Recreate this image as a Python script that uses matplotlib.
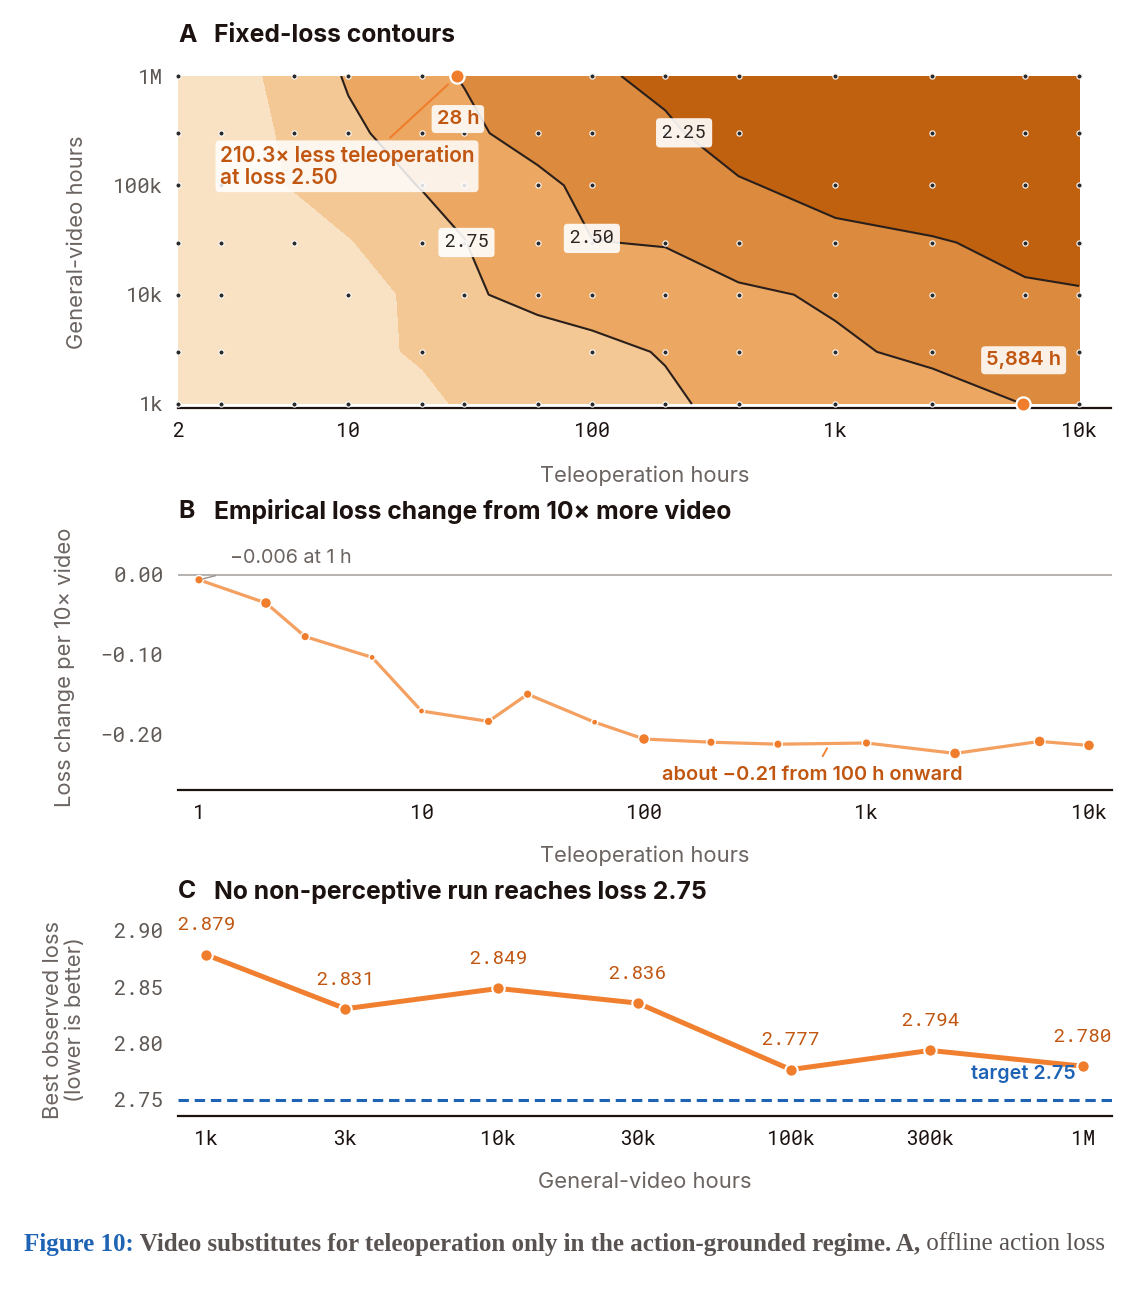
import numpy as np
import matplotlib
matplotlib.use("Agg")
import matplotlib.pyplot as plt

W, H, DPI = 1136, 1291, 100

# ---------------- data ----------------
# Panel A: fixed-loss surface over (teleoperation hours, general-video hours)
tele_grid = [2, 3, 6, 10, 20, 30, 60, 100, 200, 400, 1000, 2500, 6000, 10000]
video_grid = [1e3, 3e3, 1e4, 3e4, 1e5, 3e5, 1e6]
loss_v1k = [3.25, 3.20, 3.14, 3.08, 3.04, 2.975, 2.90, 2.84, 2.791, 2.678, 2.62, 2.60, 2.497, 2.45]
loss_v3k = [3.22, 3.18, 3.12, 3.05, 2.978, 2.93, 2.86, 2.81, 2.735, 2.65, 2.535, 2.453, 2.40, 2.36]
loss_v10k = [3.20, 3.16, 3.11, 3.06, 2.967, 2.78, 2.689, 2.65, 2.60, 2.54, 2.47, 2.36, 2.279, 2.268]
loss_v30k = [3.18, 3.13, 3.08, 3.01, 2.8585, 2.755, 2.57, 2.505, 2.49, 2.37, 2.33, 2.27, 2.193, 2.16]
loss_v100k = [3.15, 3.08, 2.987, 2.88, 2.74, 2.68, 2.56, 2.4355, 2.36, 2.28, 2.144, 2.09, 2.06, 2.04]
loss_v300k = [3.20, 3.12, 2.956, 2.80, 2.633, 2.55, 2.404, 2.34, 2.30, 2.109, 2.09, 2.05, 2.02, 2.00]
loss_v1M = [3.18, 3.10, 2.92, 2.724, 2.56, 2.486, 2.40, 2.30, 2.175, 2.12, 2.06, 2.02, 1.99, 1.97]
# observed runs (1 = a run exists at that grid cell)
obs_v1k = [1, 1, 1, 1, 1, 1, 1, 1, 1, 1, 1, 1, 1, 1]
obs_v3k = [1, 1, 0, 0, 1, 0, 0, 1, 1, 1, 1, 1, 1, 1]
obs_v10k = [1, 1, 0, 1, 0, 1, 1, 1, 1, 1, 1, 1, 1, 1]
obs_v30k = [1, 1, 1, 0, 1, 1, 1, 1, 1, 1, 1, 1, 1, 1]
obs_v100k = [1, 1, 0, 0, 1, 1, 1, 1, 0, 0, 1, 1, 1, 1]
obs_v300k = [1, 1, 1, 1, 1, 1, 1, 1, 1, 1, 0, 1, 1, 1]
obs_v1M = [1, 0, 1, 1, 1, 0, 0, 1, 1, 1, 1, 1, 1, 1]
contour_levels = [2.25, 2.50, 2.75]
fill_levels = [1.5, 2.25, 2.50, 2.75, 3.00, 3.6]
match_loss = 2.50
match_tele = [28, 5884]
match_video = [1e6, 1e3]
ratio_text = "210.3\u00d7 less teleoperation\nat loss 2.50"

# Panel B: loss change per 10x more video
b_tele = [1, 2, 3, 6, 10, 20, 30, 60, 100, 200, 400, 1000, 2500, 6000, 10000]
b_delta = [-0.006, -0.035, -0.077, -0.103, -0.170, -0.183, -0.149, -0.184,
           -0.205, -0.209, -0.2115, -0.210, -0.223, -0.208, -0.213]
b_runs = [2, 3, 2, 1, 1, 2, 2, 1, 3, 2, 2, 2, 3, 3, 3]
b_plateau = -0.21

# Panel C: best observed loss per video budget
c_video = [1e3, 3e3, 1e4, 3e4, 1e5, 3e5, 1e6]
c_loss = [2.879, 2.831, 2.849, 2.836, 2.777, 2.794, 2.780]
c_target = 2.75

# ---------------- style ----------------
SANS = ["Inter", "DejaVu Sans"]
MONO = ["Roboto Mono", "DejaVu Sans Mono"]
INK = "#1c1311"
GRAY = "#6b6461"
TICKGRAY = "#5f5955"
ACC = "#c05610"
ORANGE = "#ef7d2c"
LIGHTOR = "#f4a061"
BLUE = "#1f63b5"
fill_colors = ["#c06110", "#dc8a3e", "#eca862", "#f3c894", "#f9e2c4"]
LABEL_FS = 15.8
ANN_FS = 14.4

plt.rcParams["font.family"] = SANS

fig = plt.figure(figsize=(W / DPI, H / DPI), dpi=DPI)
fig.patch.set_facecolor("white")


def px_axes(l, t, r, b):
    return fig.add_axes([l / W, 1 - b / H, (r - l) / W, (b - t) / H])


def style_axis(ax):
    for s in ["top", "right", "left"]:
        ax.spines[s].set_visible(False)
    ax.spines["bottom"].set_color(INK)
    ax.spines["bottom"].set_linewidth(1.6)
    ax.tick_params(axis="both", length=0)
    ax.tick_params(axis="x", pad=10, labelsize=14.5, labelcolor=INK)
    ax.tick_params(axis="y", pad=10.5, labelsize=15, labelcolor=TICKGRAY)
    for lab in ax.get_xticklabels() + ax.get_yticklabels():
        lab.set_family(MONO)
    ax.patch.set_alpha(0)


def panel_title(letter, text, y_px):
    fig.text(178 / W, 1 - y_px / H, letter, fontsize=17.8, fontweight="bold",
             color=INK, va="center", ha="left", family=SANS)
    fig.text(214 / W, 1 - y_px / H, text, fontsize=17.8, fontweight="bold",
             color=INK, va="center", ha="left", family=SANS)


# ---------------- Panel A ----------------
axA = px_axes(178, 76, 1111, 408)
U = np.log10(np.array(tele_grid, dtype=float))
V = np.log10(np.array(video_grid, dtype=float))
Z = np.array([loss_v1k, loss_v3k, loss_v10k, loss_v30k, loss_v100k, loss_v300k, loss_v1M])
OBS = np.array([obs_v1k, obs_v3k, obs_v10k, obs_v30k, obs_v100k, obs_v300k, obs_v1M])
UU, VV = np.meshgrid(U, V)

axA.contourf(UU, VV, Z, levels=fill_levels, colors=fill_colors, zorder=1)
cs = axA.contour(UU, VV, Z, levels=contour_levels, colors="#2a1f1a",
                 linewidths=1.5, zorder=2)
mask = OBS.astype(bool)
axA.scatter(UU[mask], VV[mask], s=14, color="#2b2b2b", edgecolors="white",
            linewidths=0.8, zorder=3, clip_on=False)

lbl_pos = [(2.378, 5.479), (1.988, 4.482), (1.489, 4.482)]
labels = axA.clabel(cs, levels=contour_levels, fmt=lambda v: f"{v:.2f}",
                    manual=lbl_pos, inline=False, fontsize=13.5, colors="#2a2422")
for t in labels:
    t.set_rotation(0)
    t.set_family(MONO)
    t.set_zorder(6)
    t.set_bbox(dict(boxstyle="round,pad=0.3,rounding_size=0.2", fc="white",
                    ec="none", alpha=0.9))

mu = np.log10(np.array(match_tele, dtype=float))
mv = np.log10(np.array(match_video, dtype=float))
axA.scatter(mu, mv, s=105, color=ORANGE, edgecolors="white", linewidths=1.6,
            zorder=7, clip_on=False)
box = dict(boxstyle="round,pad=0.25,rounding_size=0.2", fc="white", ec="none", alpha=0.88)
for uu, vv, tele, dy in zip(mu, mv, match_tele, [-31, 31.5]):
    axA.annotate(f"{tele:,} h", xy=(uu, vv), xytext=(0.5, dy), textcoords="offset points",
                 ha="center", va="center", fontsize=ANN_FS, fontweight="semibold",
                 color=ACC, bbox=box, zorder=8)
axA.annotate(ratio_text, xy=(mu[0], mv[0]), xytext=(-171, -65), textcoords="offset points",
             ha="left", va="center", fontsize=15, fontweight="semibold", color=ACC,
             linespacing=1.15, bbox=dict(boxstyle="round,pad=0.2,rounding_size=0.2",
                                         fc="white", ec="none", alpha=0.85),
             arrowprops=dict(arrowstyle="-", color=ORANGE, lw=1.5, shrinkA=3,
                             shrinkB=9, relpos=(0.64, 1.0)), zorder=8)

axA.set_xlim(np.log10(2), np.log10(2) + (1111 - 178) / 243.6)
axA.set_ylim(3 - 4 / 109.33, 6)
axA.set_xticks(np.log10([2, 10, 100, 1000, 10000]))
axA.set_xticklabels(["2", "10", "100", "1k", "10k"])
axA.set_yticks([3, 4, 5, 6])
axA.set_yticklabels(["1k", "10k", "100k", "1M"])
style_axis(axA)
axA.set_xlabel("Teleoperation hours", fontsize=LABEL_FS, color=GRAY)
axA.xaxis.set_label_coords(0.5, (408 - 476) / 332)
axA.xaxis.label.set_va("center")
axA.set_ylabel("General-video hours", fontsize=LABEL_FS, color=GRAY)
axA.yaxis.set_label_coords((77 - 178) / 933, 0.5)
axA.yaxis.label.set_va("center")
panel_title("A", "Fixed-loss contours", 36)

# ---------------- Panel B ----------------
axB = px_axes(178, 551, 1112, 790)
axB.set_xscale("log")
axB.axhline(0, color="#aaa5a3", lw=1.2, zorder=1)
axB.plot(b_tele, b_delta, color=LIGHTOR, lw=2.3, zorder=2, solid_joinstyle="round")
sizes = [{1: 20, 2: 38, 3: 62}[n] for n in b_runs]
axB.scatter(b_tele, b_delta, s=sizes, color=ORANGE, edgecolors="white",
            linewidths=1.0, zorder=3)
axB.annotate("", xy=(b_tele[0], b_delta[0]), xytext=(12, 3), textcoords="offset points",
             arrowprops=dict(arrowstyle="-", color="#9a9491", lw=1.0, shrinkA=0, shrinkB=3))
axB.annotate(f"\u2212{abs(b_delta[0]):.3f} at 1 h", xy=(b_tele[0], b_delta[0]),
             xytext=(22, 16), textcoords="offset points", ha="left", va="center",
             fontsize=14.2, color=GRAY)
axB.annotate(f"about \u2212{abs(b_plateau):.2f} from 100 h onward", xy=(685, -0.2105),
             xytext=(-13, -23), textcoords="offset points", ha="center", va="center",
             fontsize=ANN_FS, fontweight="semibold", color=ACC,
             arrowprops=dict(arrowstyle="-", color=ORANGE, lw=1.3, shrinkA=6, shrinkB=4))
axB.set_xlim(10 ** (-21 / 222.5), 10 ** ((1112 - 199) / 222.5))
axB.set_ylim(-0.26875, 0.03)
axB.set_xticks([1, 10, 100, 1000, 10000])
axB.set_xticklabels(["1", "10", "100", "1k", "10k"])
axB.xaxis.set_minor_locator(matplotlib.ticker.NullLocator())
axB.set_yticks([0, -0.1, -0.2])
axB.set_yticklabels(["0.00", "\u22120.10", "\u22120.20"])
style_axis(axB)
axB.set_xlabel("Teleoperation hours", fontsize=LABEL_FS, color=GRAY)
axB.xaxis.set_label_coords(0.5, (790 - 856) / 239)
axB.xaxis.label.set_va("center")
axB.set_ylabel("Loss change per 10\u00d7 video", fontsize=LABEL_FS, color=GRAY)
axB.yaxis.set_label_coords((65 - 178) / 934, (790 - 667) / 239)
axB.yaxis.label.set_va("center")
panel_title("B", "Empirical loss change from 10\u00d7 more video", 511)

# ---------------- Panel C ----------------
axC = px_axes(178, 908, 1112, 1116)
axC.set_xscale("log")
axC.axhline(c_target, color=BLUE, lw=2.2, ls=(0, (3.4, 1.9)), zorder=1)
axC.plot(c_video, c_loss, color="#f08030", lw=3.6, zorder=2)
axC.scatter(c_video, c_loss, s=80, color=ORANGE, edgecolors="white", linewidths=1.5, zorder=3)
for xv, yv in zip(c_video, c_loss):
    axC.annotate(f"{yv:.3f}", xy=(xv, yv), xytext=(0, 21), textcoords="offset points",
                 ha="center", va="center", fontsize=14, color=ACC, family=MONO)
axC.annotate(f"target {c_target:.2f}", xy=((1076 - 178) / 934, c_target),
             xycoords=("axes fraction", "data"), xytext=(0, 18.5), textcoords="offset points",
             ha="right", va="center", fontsize=14.2, fontweight="semibold", color=BLUE)
axC.set_xlim(10 ** (3 - 28 / 292.3), 10 ** (6 + 29 / 292.3))
axC.set_ylim(2.7358, 2.9204)
axC.set_xticks(c_video)
axC.set_xticklabels(["1k", "3k", "10k", "30k", "100k", "300k", "1M"])
axC.xaxis.set_minor_locator(matplotlib.ticker.NullLocator())
axC.set_yticks([2.75, 2.80, 2.85, 2.90])
axC.set_yticklabels(["2.75", "2.80", "2.85", "2.90"])
style_axis(axC)
axC.set_xlabel("General-video hours", fontsize=LABEL_FS, color=GRAY)
axC.xaxis.set_label_coords(0.5, (1116 - 1182) / 208)
axC.xaxis.label.set_va("center")
axC.set_ylabel("Best observed loss\n(lower is better)", fontsize=LABEL_FS, color=GRAY,
               linespacing=1.1, multialignment="center")
axC.yaxis.set_label_coords((64 - 178) / 934, (1116 - 1020) / 208)
axC.yaxis.label.set_va("center")
panel_title("C", "No non-perceptive run reaches loss 2.75", 891)

# ---------------- caption ----------------
renderer = fig.canvas.get_renderer()
pieces = [("Figure 10:", "bold", BLUE),
          (" Video substitutes for teleoperation only in the action-grounded regime.", "bold", "#585250"),
          (" A,", "bold", "#585250"),
          (" offline action loss", "normal", "#585250")]
xpx = 24
for s, w, c in pieces:
    t = fig.text(xpx / W, 1 - 1244 / H, s, fontsize=18, fontweight=w, color=c,
                 family=["Liberation Serif", "DejaVu Serif"], ha="left", va="center")
    xpx += t.get_window_extent(renderer).width

fig.savefig("out.png", dpi=DPI)
